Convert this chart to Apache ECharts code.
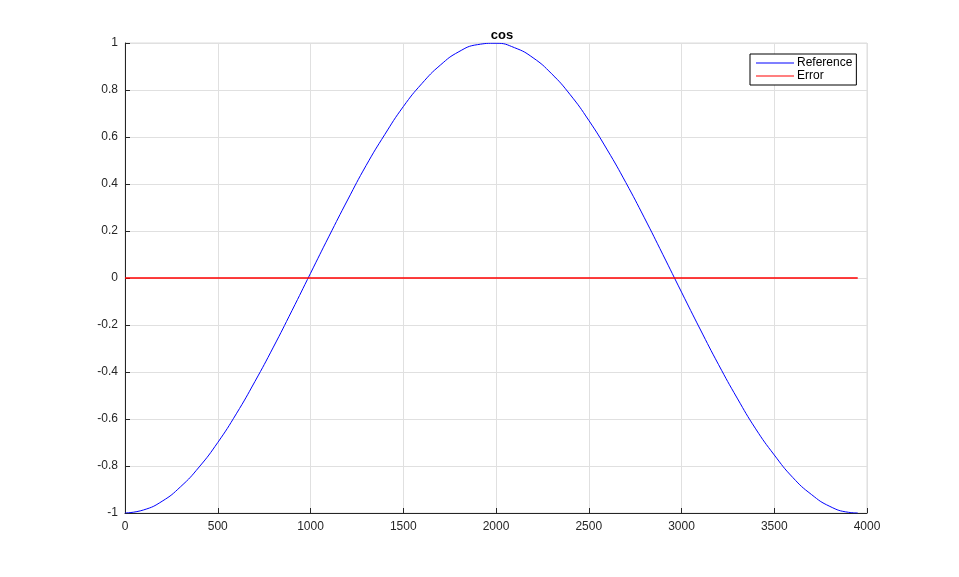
<!DOCTYPE html>
<html>
<head>
<meta charset="utf-8">
<script src="https://cdn.jsdelivr.net/npm/echarts@6/dist/echarts.min.js"></script>
<style>
  html, body { margin: 0; padding: 0; background: #fff; }
  #main { width: 959px; height: 577px; }
</style>
</head>
<body>
<div id="main"></div>
<script>
  // x positions of the sampled points
  var xValues = [0, 100, 200, 300, 400, 500, 600, 700, 800, 900, 1000, 1100, 1200, 1300, 1400, 1500,
    1600, 1700, 1800, 1900, 2000, 2100, 2200, 2300, 2400, 2500, 2600, 2700, 2800, 2900, 3000, 3100,
    3200, 3300, 3400, 3500, 3600, 3700, 3800, 3900, 3950];
  // blue "Reference" curve
  var referenceValues = [-1, -0.987, -0.950, -0.888, -0.804, -0.700, -0.578, -0.441, -0.294, -0.139,
    0.020, 0.178, 0.332, 0.479, 0.610, 0.729, 0.827, 0.906, 0.963, 0.993, 0.999, 0.980, 0.937, 0.869,
    0.780, 0.671, 0.545, 0.406, 0.256, 0.099, -0.060, -0.217, -0.369, -0.511, -0.642, -0.753, -0.849,
    -0.921, -0.972, -0.997, -1];
  // red "Error" line, flat at zero
  var errorX = [0, 1000, 2000, 3000, 3950];
  var errorValues = [0, 0, 0, 0, 0];

  var font = 'Arial, "Liberation Sans", Helvetica, sans-serif';
  var myChart = echarts.init(document.getElementById('main'));

  myChart.setOption({
    animation: false,
    backgroundColor: '#fff',
    title: {
      text: 'cos',
      left: 497,
      top: 24,
      textAlign: 'center',
      textStyle: {fontFamily: font, fontSize: 13, fontWeight: 'bold', color: '#000'}
    },
    legend: {
      orient: 'vertical',
      left: 750,
      top: 54,
      padding: [3, 4, 3, 6],
      itemGap: 1,
      itemWidth: 38,
      itemHeight: 1,
      borderColor: '#000',
      borderWidth: 1,
      backgroundColor: '#fff',
      textStyle: {fontFamily: font, fontSize: 12, color: '#000', padding: [0, 0, 0, -2]},
      data: [
        {name: 'Reference', icon: 'rect'},
        {name: 'Error', icon: 'rect'}
      ]
    },
    grid: {
      left: 125, right: 92, top: 43, bottom: 64,
      show: true,
      borderColor: '#dcdcdc',
      borderWidth: 1
    },
    xAxis: {
      type: 'value',
      min: 0, max: 4000, interval: 500,
      axisLine: {show: true, onZero: false, lineStyle: {color: '#262626', width: 1}},
      axisTick: {show: true, inside: true, length: 5, lineStyle: {color: '#262626'}},
      axisLabel: {fontFamily: font, fontSize: 12, color: '#262626', margin: 8,
        formatter: function (v) { return String(v); }},
      splitLine: {show: true, lineStyle: {color: '#e0e0e0', width: 1}}
    },
    yAxis: {
      type: 'value',
      min: -1, max: 1, interval: 0.2,
      axisLine: {show: true, onZero: false, lineStyle: {color: '#262626', width: 1}},
      axisTick: {show: true, inside: true, length: 5, lineStyle: {color: '#262626'}},
      axisLabel: {fontFamily: font, fontSize: 12, color: '#262626', margin: 7,
        formatter: function (v) { return String(Math.round(v * 10) / 10); }},
      splitLine: {show: true, lineStyle: {color: '#e0e0e0', width: 1}}
    },
    series: [
      {
        name: 'Reference',
        type: 'line',
        smooth: true,
        showSymbol: false,
        color: '#0000ff',
        lineStyle: {width: 1, color: '#0000ff'},
        data: xValues.map(function (x, i) { return [x, referenceValues[i]]; })
      },
      {
        name: 'Error',
        type: 'line',
        showSymbol: false,
        color: '#ff0000',
        lineStyle: {width: 1.3, color: '#ff0000'},
        data: errorX.map(function (x, i) { return [x, errorValues[i]]; })
      }
    ]
  });
</script>
</body>
</html>
